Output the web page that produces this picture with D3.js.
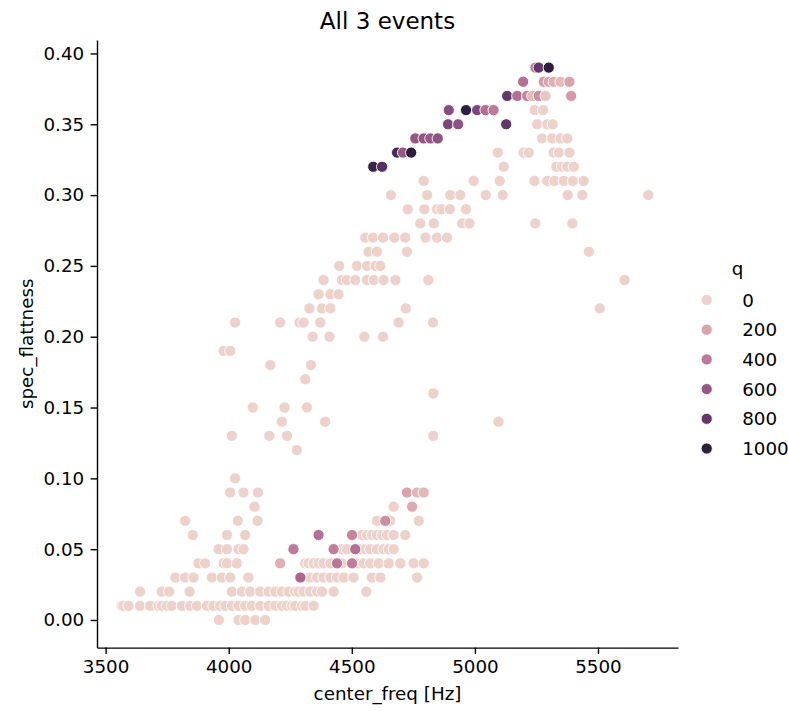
<!DOCTYPE html>
<html>
<head>
<meta charset="utf-8">
<script src="https://cdn.jsdelivr.net/npm/d3@7"></script>
<style>
  body { margin: 0; background: #fff; }
  text { font-family: "DejaVu Sans", sans-serif; fill: #000; }
</style>
</head>
<body>
<div id="chart"></div>
<script>
// ---- data ----
const chartTitle = 'All 3 events';
const xLabel = 'center_freq [Hz]';
const yLabel = 'spec_flattness';
const hueTitle = 'q';
const xTicks = [3500, 4000, 4500, 5000, 5500];
const yTicks = [0, 0.05, 0.10, 0.15, 0.20, 0.25, 0.30, 0.35, 0.40];
const hueLevels = [0, 200, 400, 600, 800, 1000];

// light points (q close to 0), one entry per flatness level: [flatness, [center_freq...]]
const lowRows = [
  [0.00, [3960, 4040, 4067, 4108, 4148]],
  [0.01, [3565, 3572, 3593, 3640, 3681, 3715, 3728, 3749, 3769, 3810, 3843, 3871, 3911, 3938, 3965,
          3986, 4013, 4040, 4067, 4094, 4128, 4162, 4189, 4216, 4237, 4257, 4270, 4298, 4311, 4345]],
  [0.02, [3640, 3728, 3758, 3841, 4013, 4054, 4087, 4128, 4162, 4189, 4216, 4243, 4270, 4284, 4304,
          4331, 4359, 4379, 4426, 4559]],
  [0.03, [3783, 3823, 3857, 3932, 3972, 4006, 4080, 4331, 4359, 4385, 4413, 4440, 4467, 4507, 4582,
          4616, 4765]],
  [0.04, [3877, 3904, 3979, 3993, 4033, 4311, 4324, 4345, 4365, 4385, 4413, 4460, 4521, 4548, 4575,
          4609, 4650, 4697, 4751, 4792]],
  [0.05, [3959, 3993, 4040, 4060, 4460, 4480, 4535, 4555, 4575, 4602, 4629, 4650, 4670]],
  [0.06, [3854, 3993, 4067, 4541, 4562, 4582, 4602, 4623, 4643, 4670, 4717]],
  [0.07, [3823, 4037, 4117, 4602, 4656, 4772]],
  [0.08, [4105, 4670]],
  [0.09, [4006, 4060, 4119]],
  [0.10, [4026]]
];

const midRows = [
  [0.12, [4277]],
  [0.13, [4013, 4165, 4237, 4831]],
  [0.14, [4216, 4392, 5096]],
  [0.15, [4098, 4227, 4318]],
  [0.16, [4831]],
  [0.17, [4311]],
  [0.18, [4169, 4334]],
  [0.19, [3979, 4006]],
  [0.20, [4341, 4409, 4551, 4627]],
  [0.21, [4026, 4209, 4288, 4304, 4372, 4690, 4830]],
  [0.22, [4328, 4379, 4413, 4719, 5507]],
  [0.23, [4365, 4413, 4446]],
  [0.24, [4385, 4460, 4480, 4514, 4562, 4589, 4629, 4677, 4811, 5608]]
];

const highRows = [
  [0.25, [4449, 4521, 4562, 4596, 4616]],
  [0.26, [4568, 4602, 4724, 5463]],
  [0.27, [4555, 4586, 4627, 4673, 4717, 4799, 4846, 4887]],
  [0.28, [4778, 4833, 4948, 4978, 5245, 5396]],
  [0.29, [4727, 4795, 4846, 4864, 4898, 4964]],
  [0.30, [4659, 4806, 4900, 4941, 5044, 5113, 5377, 5436, 5704]],
  [0.31, [4792, 4995, 5101, 5242, 5294, 5323, 5361, 5398, 5442]],
  [0.32, [5117, 5331, 5354, 5375, 5402]],
  [0.33, [5093, 5198, 5219, 5320, 5341, 5384]],
  [0.34, [5273, 5314, 5348, 5375]],
  [0.35, [5253, 5294, 5316]],
  [0.36, [5243, 5277]]
];

// tinted points: [center_freq, flatness, q]
const lowTinted = [
  [4209, 0.04, 150], [4291, 0.03, 500], [4263, 0.05, 400], [4365, 0.06, 450],
  [4426, 0.05, 380], [4440, 0.04, 420], [4501, 0.04, 380], [4501, 0.06, 350],
  [4514, 0.05, 450], [4636, 0.07, 300], [4745, 0.08, 180], [4724, 0.09, 200],
  [4765, 0.09, 120], [4792, 0.09, 120]
];

const topTinted = [
  [4587, 0.32, 950], [4623, 0.32, 850], [4684, 0.33, 900], [4708, 0.33, 600], [4741, 0.33, 1000],
  [4758, 0.34, 600], [4792, 0.34, 600], [4819, 0.34, 580], [4849, 0.34, 620],
  [4891, 0.35, 700], [4932, 0.35, 620], [5127, 0.35, 800],
  [4894, 0.36, 650], [4964, 0.36, 1000], [5009, 0.36, 700], [5043, 0.36, 450], [5076, 0.36, 400],
  [5131, 0.37, 800], [5172, 0.37, 450], [5212, 0.37, 350], [5233, 0.37, 100], [5259, 0.37, 300],
  [5287, 0.37, 50], [5391, 0.37, 250],
  [5196, 0.38, 450], [5280, 0.38, 250], [5300, 0.38, 200], [5320, 0.38, 150], [5348, 0.38, 100],
  [5384, 0.38, 200],
  [5246, 0.39, 400], [5259, 0.39, 800], [5300, 0.39, 1000]
];

// ---- layout ----
const width = 788, height = 711;
const plot = { left: 97, right: 678, top: 40, bottom: 647.6 };

const svg = d3.select('#chart').append('svg')
  .attr('width', width)
  .attr('height', height);

const x = d3.scaleLinear().domain([3465, 5825]).range([plot.left, plot.right]);
const y = d3.scaleLinear().domain([-0.0195, 0.4095]).range([plot.bottom, plot.top]);

// seaborn default cubehelix palette (light -> dark)
const qMax = 1000;
function hueColor(v) {
  const t = Math.max(0, Math.min(1, v / qMax));
  const xx = 0.85 + (0.15 - 0.85) * t;
  const a = 0.8 * xx * (1 - xx) / 2;
  const phi = 2 * Math.PI * (0.4 * xx);
  const ch = (p0, p1) => Math.max(0, Math.min(1, xx + a * (p0 * Math.cos(phi) + p1 * Math.sin(phi))));
  return d3.rgb(255 * ch(-0.14861, 1.78277), 255 * ch(-0.29227, -0.90649), 255 * ch(1.97294, 0)).formatHex();
}

// flatten everything into one list of points
const rowsToPoints = rows => rows.flatMap(([flat, freqs]) => freqs.map(f => [f, flat, 0]));
const points = [
  ...rowsToPoints(lowRows),
  ...rowsToPoints(midRows),
  ...rowsToPoints(highRows),
  ...lowTinted,
  ...topTinted
];

// points
svg.append('g')
  .selectAll('circle')
  .data(points)
  .enter()
  .append('circle')
  .attr('cx', d => x(d[0]))
  .attr('cy', d => y(d[1]))
  .attr('r', 5.6)
  .attr('fill', d => hueColor(d[2]))
  .attr('stroke', '#fff')
  .attr('stroke-width', 0.9);

// axes
const xAxis = svg.append('g')
  .attr('transform', `translate(0,${plot.bottom})`)
  .call(d3.axisBottom(x).tickValues(xTicks).tickFormat(d3.format('d'))
    .tickSize(6.4).tickSizeOuter(0).tickPadding(6.4));

const yAxis = svg.append('g')
  .attr('transform', `translate(${plot.left},0)`)
  .call(d3.axisLeft(y).tickValues(yTicks).tickFormat(d3.format('.2f'))
    .tickSize(6.4).tickSizeOuter(0).tickPadding(6.4));

[xAxis, yAxis].forEach(g => {
  g.selectAll('path, line').attr('stroke', '#000').attr('stroke-width', 1.4);
  g.selectAll('text').style('font-size', '18.3px').attr('fill', '#000');
});

// axis labels
svg.append('text')
  .attr('x', (plot.left + plot.right) / 2)
  .attr('y', 700)
  .attr('text-anchor', 'middle')
  .style('font-size', '18.3px')
  .text(xLabel);

svg.append('text')
  .attr('transform', `translate(32.5,${(plot.top + plot.bottom) / 2}) rotate(-90)`)
  .attr('text-anchor', 'middle')
  .style('font-size', '18.3px')
  .text(yLabel);

// title
svg.append('text')
  .attr('x', (plot.left + plot.right) / 2)
  .attr('y', 29)
  .attr('text-anchor', 'middle')
  .style('font-size', '23px')
  .text(chartTitle);

// legend
const legend = svg.append('g').attr('transform', 'translate(706.7,300)');

legend.append('text')
  .attr('x', 30.8)
  .attr('y', -25)
  .attr('text-anchor', 'middle')
  .style('font-size', '18.3px')
  .text(hueTitle);

hueLevels.forEach((lvl, i) => {
  const row = legend.append('g').attr('transform', `translate(0,${i * 29.7})`);
  row.append('circle')
    .attr('r', 5.6)
    .attr('fill', hueColor(lvl))
    .attr('stroke', '#fff')
    .attr('stroke-width', 0.9);
  row.append('text')
    .attr('x', 35.5)
    .attr('dy', '0.36em')
    .style('font-size', '18.3px')
    .text(lvl);
});
</script>
</body>
</html>
